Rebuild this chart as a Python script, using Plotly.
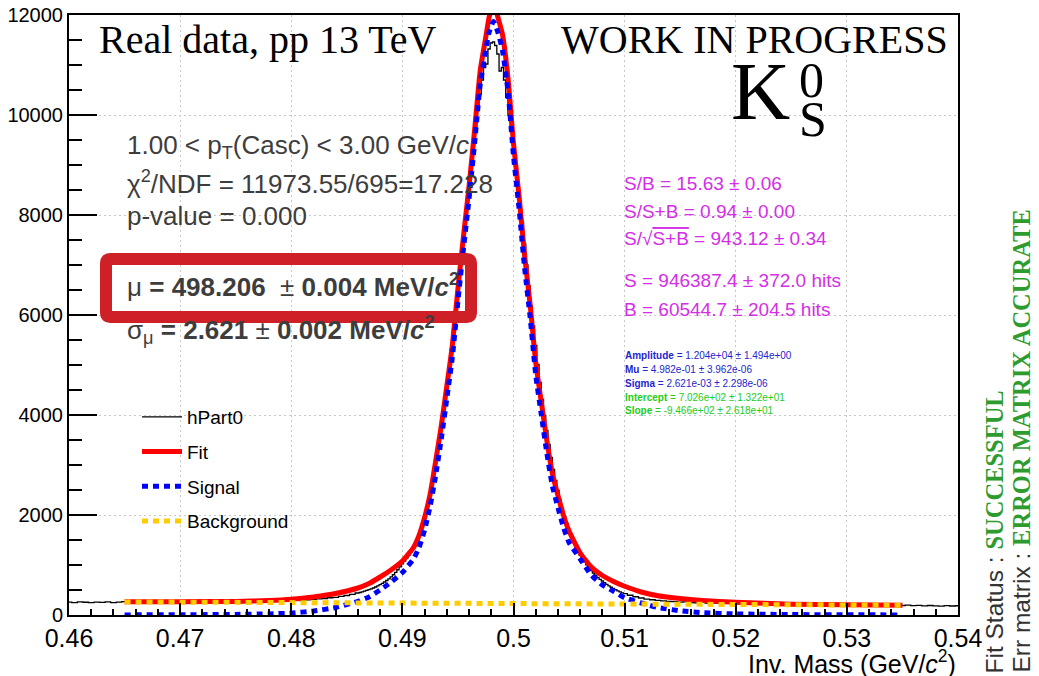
import numpy as np
import plotly.graph_objects as go

# ---------------- data ----------------
# invariant-mass histogram hPart0 (counts per bin), three binning segments
hist_left_start, hist_left_step = 0.4600, 0.0005
hist_left_counts = [258, 249, 262, 255, 246, 259, 251, 263, 248, 256,
                    266, 252, 260, 249, 264, 257, 250, 268, 255, 261,
                    253, 266, 258, 250, 270, 259, 264, 255, 272, 261,
                    258, 275, 266, 262, 279, 300, 271, 276, 283, 278,
                    290, 296, 288, 305, 312, 322, 330, 345, 352, 372,
                    390, 412, 440]

hist_core_start, hist_core_step = 0.4862, 0.0002
hist_core_counts = [450, 462, 478, 492, 508, 522, 540, 560, 582, 606,
                    632, 660, 690, 724, 762, 805, 852, 905, 962, 1025,
                    1080, 1140, 1200, 1265, 1335, 1420, 1520, 1640, 1780, 1935,
                    2115, 2310, 2540, 2800, 3080, 3360, 3645, 3935, 4245, 4580,
                    4935, 5310, 5700, 6100, 6510, 6930, 7350, 7770, 8190, 8600,
                    9000, 9390, 9760, 10100, 10420, 10700, 10950, 11020, 11320, 11440,
                    11460, 11390, 11220, 10880,
                    10950, 10700, 10350, 10000, 9680, 9400, 9020, 8650, 8250, 7850,
                    7420, 7000, 6580, 6180, 5780, 5390, 5010, 4650, 4310, 3990,
                    3690, 3410, 3150, 2910, 2690, 2490, 2300, 2130, 1970, 1830,
                    1700, 1580, 1470, 1370, 1280, 1200, 1130, 1065, 1005, 950,
                    890, 840, 795, 752, 714, 680, 645, 612, 582, 555,
                    530, 506, 484, 463, 444, 426]

hist_right_start, hist_right_step = 0.5105, 0.0005
hist_right_counts = [395, 365, 340, 318, 305, 292, 281, 270, 266, 258,
                     262, 249, 245, 252, 240, 236, 244, 233, 238, 229,
                     241, 230, 226, 238, 224, 231, 220, 227, 234, 219,
                     226, 215, 229, 218, 212, 223, 209, 216, 207, 221,
                     210, 204, 214, 200, 208, 198, 205, 196, 202, 190,
                     198, 186, 193, 182, 190, 184, 178, 188, 180, 185]

# total fit (signal + background)
fit_mass = [0.4650, 0.4700, 0.4750, 0.4780, 0.4800, 0.4820, 0.4840, 0.4860, 0.4870, 0.4880,
            0.4890, 0.4900, 0.4910, 0.4915, 0.4920, 0.4925, 0.4930, 0.4935, 0.4940, 0.4945,
            0.4950, 0.4955, 0.4960, 0.4965, 0.4970, 0.4975, 0.4978, 0.4982, 0.4986, 0.4990,
            0.4995, 0.5000, 0.5005, 0.5010, 0.5015, 0.5020, 0.5025, 0.5030, 0.5035, 0.5040,
            0.5045, 0.5050, 0.5060, 0.5070, 0.5080, 0.5090, 0.5100, 0.5115, 0.5130, 0.5150,
            0.5170, 0.5200, 0.5250, 0.5300, 0.5350]
fit_counts = [264, 266, 272, 290, 315, 362, 430, 540, 630, 760,
              905, 1080, 1350, 1590, 1950, 2420, 3080, 3780, 4580, 5400,
              6530, 7580, 8580, 9700, 10880, 11550, 11950, 12270, 11950, 11620,
              10750, 9430, 8380, 7190, 6200, 5050, 4260, 3490, 2830, 2390,
              1990, 1680, 1240, 960, 790, 670, 575, 460, 385, 328,
              290, 255, 215, 203, 196]

# signal component
sig_mass = fit_mass
sig_counts = [2, 5, 12, 22, 38, 80, 150, 275, 360, 500,
              660, 850, 1120, 1350, 1700, 2180, 2800, 3520, 4330, 5160,
              6280, 7330, 8330, 9440, 10600, 11300, 11650, 11870, 11650, 11300,
              10480, 9180, 8130, 6940, 5950, 4800, 4010, 3240, 2580, 2150,
              1750, 1450, 1120, 800, 600, 475, 345, 240, 150, 85,
              45, 22, 9, 4, 2]

# linear background component (end points of the fit range)
bkg_mass = [0.465, 0.535]
bkg_counts = [262, 196]

# axis ticks
x_tick_vals = [0.46, 0.47, 0.48, 0.49, 0.50, 0.51, 0.52, 0.53, 0.54]
x_tick_text = ["0.46", "0.47", "0.48", "0.49", "0.5", "0.51", "0.52", "0.53", "0.54"]
y_tick_vals = [0, 2000, 4000, 6000, 8000, 10000, 12000]
y_tick_text = ["0", "2000", "4000", "6000", "8000", "10000", "12000"]


def bin_centres(start, step, counts):
    return np.round(start + step * np.arange(len(counts)), 4)


hist_mass = np.concatenate([
    bin_centres(hist_left_start, hist_left_step, hist_left_counts),
    bin_centres(hist_core_start, hist_core_step, hist_core_counts),
    bin_centres(hist_right_start, hist_right_step, hist_right_counts),
])
hist_counts = hist_left_counts + hist_core_counts + hist_right_counts

# ---------------- page geometry ----------------
W, H = 1039, 676
L, R, T, B = 69, 958, 15, 615
SANS = "Liberation Sans, Arial, sans-serif"
SERIF = "Liberation Serif, Times New Roman, serif"


def px(x):
    return (x - L) / (R - L)


def py(y):
    return (B - y) / (B - T)


fig = go.Figure()

fig.add_trace(go.Scatter(x=hist_mass, y=hist_counts, mode="lines", name="hPart0",
                         legendgroup="a",
                         line=dict(color="black", width=1.3, shape="hvh")))
fig.add_trace(go.Scatter(x=fit_mass, y=fit_counts, mode="lines", name="Fit",
                         legendgroup="b",
                         line=dict(color="#ff0000", width=5, shape="spline", smoothing=0.5)))
fig.add_trace(go.Scatter(x=sig_mass, y=sig_counts, mode="lines", name="Signal",
                         legendgroup="c",
                         line=dict(color="#0000ff", width=5, dash="6px,5px",
                                   shape="spline", smoothing=0.5)))
fig.add_trace(go.Scatter(x=bkg_mass, y=bkg_counts, mode="lines", name="Background",
                         legendgroup="d",
                         line=dict(color="#ffcc00", width=5, dash="6px,5px")))

grid = dict(showgrid=True, gridcolor="#c8c8c8", gridwidth=1, griddash="2px,3px")

fig.update_xaxes(range=[0.46, 0.54], tickvals=x_tick_vals, ticktext=x_tick_text,
                 ticks="inside", ticklen=12, tickwidth=1.5, tickcolor="black",
                 minor=dict(ticks="inside", ticklen=6, tickwidth=1.5, tickcolor="black",
                            dtick=0.002, tick0=0.46, showgrid=False),
                 tickfont=dict(family=SANS, size=25, color="black"),
                 linecolor="black", linewidth=2, mirror=True, zeroline=False,
                 automargin=False, **grid)
fig.update_yaxes(range=[0, 12000], tickvals=y_tick_vals, ticktext=y_tick_text,
                 ticks="inside", ticklen=28, tickwidth=1.5, tickcolor="black",
                 minor=dict(ticks="inside", ticklen=13, tickwidth=1.5, tickcolor="black",
                            dtick=500, tick0=0, showgrid=False),
                 tickfont=dict(family=SANS, size=20, color="black"),
                 linecolor="black", linewidth=2, mirror=True, zeroline=False,
                 automargin=False, **grid)

fig.update_layout(
    width=W, height=H,
    margin=dict(l=L, r=W - R, t=T, b=H - B, pad=0, autoexpand=False),
    paper_bgcolor="white", plot_bgcolor="white",
    showlegend=True,
    legend=dict(x=px(137), y=py(398), xanchor="left", yanchor="top",
                font=dict(family=SANS, size=19, color="black"),
                bgcolor="rgba(0,0,0,0)", traceorder="grouped",
                tracegroupgap=7, itemwidth=40),
)


def note(text, x, y, size, color="black", family=SANS, xanchor="left",
         yanchor="middle", angle=0):
    fig.add_annotation(text=text, x=px(x), y=py(y), xref="paper", yref="paper",
                       showarrow=False, xanchor=xanchor, yanchor=yanchor,
                       textangle=angle,
                       font=dict(size=size, color=color, family=family))


# headline labels
note("Real data, pp 13 TeV", 97, 40, 40, family=SERIF)
note("WORK IN PROGRESS", 559, 40, 40, family=SERIF)
note("K", 729, 92, 82, family=SERIF)
note("0", 797, 80, 50, family=SERIF)
note("S", 797, 119, 50, family=SERIF)

# fit summary
GREY = "#3d3d3d"
note("1.00 &lt; p<sub>T</sub>(Casc) &lt; 3.00 GeV/<i>c</i>", 125, 147, 26, GREY)
note("χ<sup>2</sup>/NDF = 11973.55/695=17.228", 125, 182, 26, GREY)
note("p-value = 0.000", 125, 216, 26, GREY)
note("μ <b>= 498.206</b>  ± <b>0.004 MeV/<i>c</i><sup>2</sup></b>", 125, 285, 26, GREY)
note("σ<sub>μ</sub> <b>= 2.621</b> ± <b>0.002 MeV/<i>c</i><sup>2</sup></b>", 125, 330, 26, GREY)


# highlight frame around the mass value
def rounded_frame(x0, y0, x1, y1, r):
    pts = [("M", x0 + r, y0), ("L", x1 - r, y0), ("Q", x1, y0, x1, y0 + r),
           ("L", x1, y1 - r), ("Q", x1, y1, x1 - r, y1), ("L", x0 + r, y1),
           ("Q", x0, y1, x0, y1 - r), ("L", x0, y0 + r), ("Q", x0, y0, x0 + r, y0)]
    out = []
    for p in pts:
        cmd, vals = p[0], p[1:]
        coords = []
        for i in range(0, len(vals), 2):
            coords.append(f"{px(vals[i]):.5f},{py(vals[i + 1]):.5f}")
        out.append(cmd + " ".join(coords))
    return " ".join(out) + " Z"


fig.add_shape(type="path", path=rounded_frame(106, 259, 471, 317, 4),
              xref="paper", yref="paper", line=dict(color="#cf1f27", width=12),
              layer="above")

# signal / background figures of merit
MAG = "#d42ee6"
note("S/B = 15.63 ± 0.06", 622, 183, 19, MAG)
note("S/S+B = 0.94 ± 0.00", 622, 211, 19, MAG)
note("S/√<span style='text-decoration:overline'>S+B</span> = 943.12 ± 0.34", 622, 238, 19, MAG)
note("S = 946387.4 ± 372.0 hits", 622, 280, 19, MAG)
note("B = 60544.7 ± 204.5 hits", 622, 309, 19, MAG)

# fit parameters
PBLUE, PGREEN = "#2424d0", "#22cc22"
note("<b>Amplitude</b> = 1.204e+04 ± 1.494e+00", 623, 355, 10, PBLUE)
note("<b>Mu</b> = 4.982e-01 ± 3.962e-06", 623, 369, 10, PBLUE)
note("<b>Sigma</b> = 2.621e-03 ± 2.298e-06", 623, 383, 10, PBLUE)
note("<b>Intercept</b> = 7.026e+02 ± 1.322e+01", 623, 397, 10, PGREEN)
note("<b>Slope</b> = -9.466e+02 ± 2.618e+01", 623, 410, 10, PGREEN)

# axis title
note("Inv. Mass (GeV/<i>c</i><sup>2</sup>)", 958, 662, 25, xanchor="right")

# fit status column
STATUS = "#2e9b2e"
note("Fit Status : <span style='font-family:Liberation Serif;color:%s'><b>SUCCESSFUL</b></span>" % STATUS,
     994, 675, 24.5, "#333333", xanchor="center", yanchor="bottom", angle=-90)
note("Err matrix : <span style='font-family:Liberation Serif;color:%s'><b>ERROR MATRIX ACCURATE</b></span>" % STATUS,
     1021, 675, 24.5, "#333333", xanchor="center", yanchor="bottom", angle=-90)

fig.write_html("out.html")
